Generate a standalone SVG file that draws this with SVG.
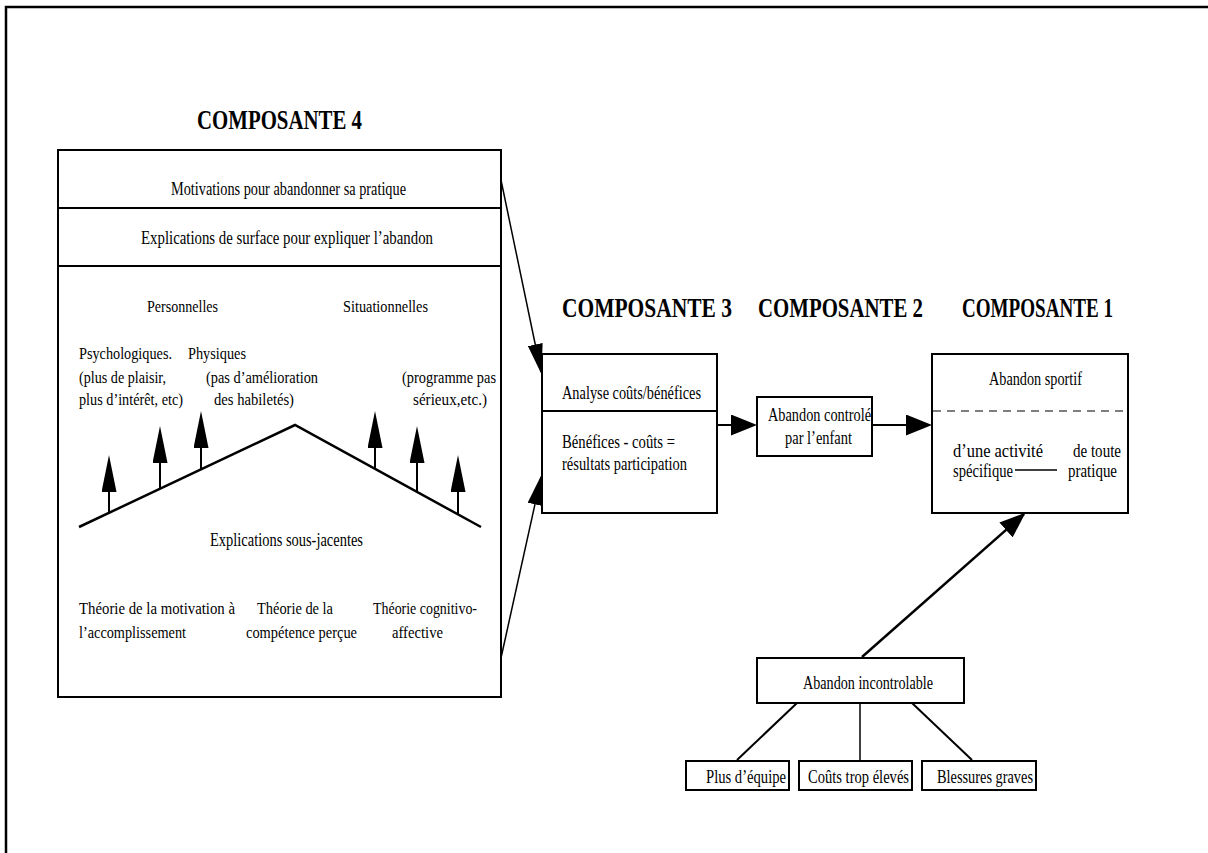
<svg xmlns="http://www.w3.org/2000/svg" width="1208" height="853" viewBox="0 0 1208 853">
<style>
text{font-family:"Liberation Serif","Times New Roman",serif;font-size:18px;fill:#000}
.h{font-weight:bold;font-size:27px}
.s{font-size:17px}
.t{font-size:16px}
.box{fill:#fff;stroke:#000;stroke-width:2}
.ln{stroke:#000;stroke-width:2;fill:none}
.thin{stroke:#000;stroke-width:1.5;fill:none}
</style>
<defs>
<marker id="mA" markerUnits="userSpaceOnUse" markerWidth="30" markerHeight="15" refX="28" refY="7.5" orient="auto"><path d="M0,0 L30,7.5 L0,15 z" fill="#000"/></marker>
<marker id="mB" markerUnits="userSpaceOnUse" markerWidth="26" markerHeight="21" refX="0" refY="10.5" orient="auto"><path d="M0,0 L26,10.5 L0,21 z" fill="#000"/></marker>
<marker id="mC" markerUnits="userSpaceOnUse" markerWidth="26" markerHeight="20" refX="24" refY="10" orient="auto"><path d="M0,0 L26,10 L0,20 z" fill="#000"/></marker>
<marker id="mD" markerUnits="userSpaceOnUse" markerWidth="37" markerHeight="15" refX="0" refY="7.5" orient="auto"><path d="M0,0 L37,7.5 L0,15 z" fill="#000"/></marker>
</defs>
<rect width="1208" height="853" fill="#fff"/>
<g id="frame"><path d="M6,853 L6,7 L1208,7" stroke="#000" stroke-width="2.5" fill="none"/></g>

<g id="headings">
<text class="h" x="197" y="129" textLength="165" lengthAdjust="spacingAndGlyphs">COMPOSANTE 4</text>
<text class="h" x="562" y="317" textLength="170" lengthAdjust="spacingAndGlyphs">COMPOSANTE 3</text>
<text class="h" x="758" y="317" textLength="165" lengthAdjust="spacingAndGlyphs">COMPOSANTE 2</text>
<text class="h" x="962" y="317" textLength="151" lengthAdjust="spacingAndGlyphs">COMPOSANTE 1</text>
</g>

<g id="composante4">
<rect class="box" x="58" y="150" width="443" height="547"/>
<line class="ln" x1="58" y1="208" x2="501" y2="208"/>
<line class="ln" x1="58" y1="266" x2="501" y2="266"/>
<text x="171" y="195" textLength="235" lengthAdjust="spacingAndGlyphs">Motivations pour abandonner sa pratique</text>
<text x="141" y="244" textLength="292" lengthAdjust="spacingAndGlyphs">Explications de surface pour expliquer l’abandon</text>
<text class="s" x="147" y="312" textLength="71" lengthAdjust="spacingAndGlyphs">Personnelles</text>
<text class="s" x="343" y="312" textLength="85" lengthAdjust="spacingAndGlyphs">Situationnelles</text>
<text class="s" x="79" y="359" textLength="93" lengthAdjust="spacingAndGlyphs">Psychologiques.</text>
<text class="s" x="188" y="359" textLength="58" lengthAdjust="spacingAndGlyphs">Physiques</text>
<text class="s" x="79" y="383" textLength="87" lengthAdjust="spacingAndGlyphs">(plus de plaisir,</text>
<text class="s" x="79" y="405" textLength="104" lengthAdjust="spacingAndGlyphs">plus d’intérêt, etc)</text>
<text class="s" x="206" y="383" textLength="112" lengthAdjust="spacingAndGlyphs">(pas d’amélioration</text>
<text class="s" x="214" y="405" textLength="80" lengthAdjust="spacingAndGlyphs">des habiletés)</text>
<text class="s" x="402" y="383" textLength="94" lengthAdjust="spacingAndGlyphs">(programme pas</text>
<text class="s" x="413" y="405" textLength="74" lengthAdjust="spacingAndGlyphs">sérieux,etc.)</text>
<polyline points="79,527 295,425 481,527" stroke="#000" stroke-width="2.5" fill="none"/>
<line class="ln" x1="109" y1="513" x2="109" y2="492" marker-end="url(#mD)"/>
<line class="ln" x1="160" y1="489" x2="160" y2="463" marker-end="url(#mD)"/>
<line class="ln" x1="201" y1="470" x2="201" y2="448" marker-end="url(#mD)"/>
<line class="ln" x1="375" y1="469" x2="375" y2="448" marker-end="url(#mD)"/>
<line class="ln" x1="417" y1="491" x2="417" y2="463" marker-end="url(#mD)"/>
<line class="ln" x1="458" y1="514" x2="458" y2="492" marker-end="url(#mD)"/>
<text x="210" y="546" textLength="153" lengthAdjust="spacingAndGlyphs">Explications sous-jacentes</text>
<text class="t" x="79" y="614" textLength="156" lengthAdjust="spacingAndGlyphs">Théorie de la motivation à</text>
<text class="t" x="79" y="638" textLength="107" lengthAdjust="spacingAndGlyphs">l’accomplissement</text>
<text class="t" x="257" y="614" textLength="76" lengthAdjust="spacingAndGlyphs">Théorie de la</text>
<text class="t" x="246" y="638" textLength="111" lengthAdjust="spacingAndGlyphs">compétence perçue</text>
<text class="t" x="373" y="614" textLength="104" lengthAdjust="spacingAndGlyphs">Théorie cognitivo-</text>
<text class="t" x="392" y="638" textLength="51" lengthAdjust="spacingAndGlyphs">affective</text>
</g>

<g id="connectors">
<line class="thin" x1="501" y1="180" x2="541" y2="372" marker-end="url(#mA)"/>
<line class="thin" x1="501" y1="658" x2="541" y2="477" marker-end="url(#mA)"/>
<line class="ln" x1="717" y1="425" x2="731" y2="425" marker-end="url(#mB)"/>
<line class="ln" x1="872" y1="425" x2="906" y2="425" marker-end="url(#mB)"/>
<line stroke="#000" stroke-width="2.5" x1="862" y1="657" x2="1024" y2="514" marker-end="url(#mC)"/>
<line class="ln" x1="797" y1="703" x2="737" y2="760"/>
<line class="thin" x1="860" y1="703" x2="860" y2="761"/>
<line class="ln" x1="912" y1="703" x2="972" y2="760"/>
</g>

<g id="composante3">
<rect class="box" x="542" y="354" width="175" height="159"/>
<line class="ln" x1="542" y1="411" x2="717" y2="411"/>
<text x="562" y="399" textLength="139" lengthAdjust="spacingAndGlyphs">Analyse coûts/bénéfices</text>
<text x="562" y="448" textLength="113" lengthAdjust="spacingAndGlyphs">Bénéfices - coûts =</text>
<text x="562" y="470" textLength="125" lengthAdjust="spacingAndGlyphs">résultats participation</text>
</g>

<g id="composante2">
<rect class="box" x="757" y="397" width="115" height="59"/>
<text x="768" y="421" textLength="103" lengthAdjust="spacingAndGlyphs">Abandon controlé</text>
<text x="785" y="444" textLength="67" lengthAdjust="spacingAndGlyphs">par l’enfant</text>
</g>

<g id="composante1">
<rect class="box" x="932" y="354" width="196" height="159"/>
<line x1="933" y1="411" x2="1127" y2="411" stroke="#555" stroke-width="1.5" stroke-dasharray="8,6"/>
<text x="989" y="385" textLength="93" lengthAdjust="spacingAndGlyphs">Abandon sportif</text>
<text x="953" y="457" textLength="90" lengthAdjust="spacingAndGlyphs">d’une activité</text>
<text x="953" y="477" textLength="60" lengthAdjust="spacingAndGlyphs">spécifique</text>
<line x1="1015" y1="470" x2="1057" y2="470" stroke="#000" stroke-width="1.5"/>
<text x="1073" y="457" textLength="48" lengthAdjust="spacingAndGlyphs">de toute</text>
<text x="1068" y="477" textLength="49" lengthAdjust="spacingAndGlyphs">pratique</text>
</g>

<g id="incontrolable">
<rect class="box" x="757" y="658" width="207" height="45"/>
<text x="803" y="689" textLength="130" lengthAdjust="spacingAndGlyphs">Abandon incontrolable</text>
</g>
<g id="equipe">
<rect class="box" x="686" y="761" width="103" height="29"/>
<text x="706" y="783" textLength="80" lengthAdjust="spacingAndGlyphs">Plus d’équipe</text>
</g>
<g id="couts">
<rect class="box" x="799" y="761" width="113" height="29"/>
<text x="808" y="783" textLength="101" lengthAdjust="spacingAndGlyphs">Coûts trop élevés</text>
</g>
<g id="blessures">
<rect class="box" x="922" y="761" width="114" height="29"/>
<text x="937" y="783" textLength="96" lengthAdjust="spacingAndGlyphs">Blessures graves</text>
</g>
</svg>
